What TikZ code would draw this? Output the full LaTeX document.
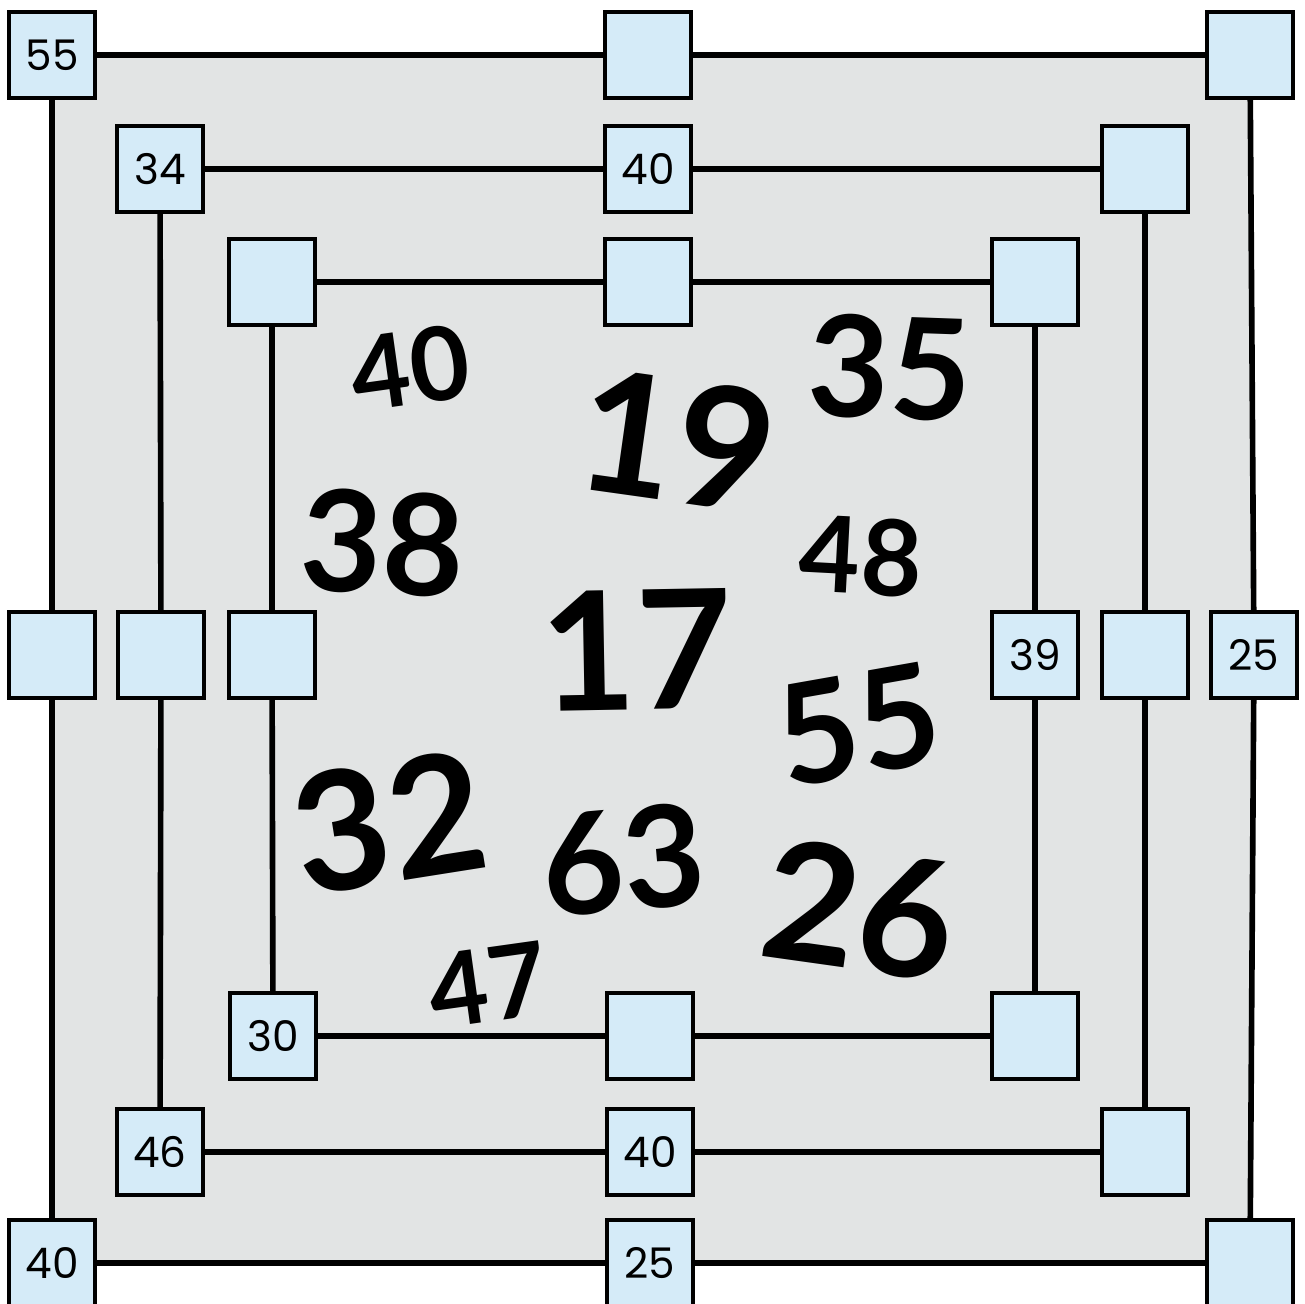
\documentclass[tikz,border=0pt]{standalone}
\usepackage{fontspec}
\setmainfont{Poppins}
\newfontfamily\numfont{Lato}
\usetikzlibrary{positioning}
\definecolor{mmboard}{HTML}{E2E4E4}
\definecolor{mmspot}{HTML}{D5EBF8}

\begin{document}
\begin{tikzpicture}[
  x=0.01cm, y=-0.01cm,
  spot/.style={rectangle, draw=black, line width=0.9pt, fill=mmspot, minimum size=0.86cm, inner sep=0pt, font=\fontsize{12}{14}\selectfont},
  ring/.style={line width=1.6pt, black},
  bignum/.style={font=\numfont\fontsize{#1}{#1}\selectfont\bfseries, inner sep=0pt},
]
\useasboundingbox (0,0) rectangle (1305,1304);

% Board background
\fill[mmboard] (51,55) rectangle (1252,1263);

% Outer ring
\node[spot] (o1) at (52,55) {55};
\node[spot] (o2) at (648,55) {};
\node[spot] (o3) at (1250,55) {};
\node[spot] (o4) at (1254,655) {25};
\node[spot] (o5) at (1250,1263) {};
\node[spot] (o6) at (650,1263) {25};
\node[spot] (o7) at (52,1263) {40};
\node[spot] (o8) at (52,655) {};

% Middle ring
\node[spot] (m1) at (160,169) {34};
\node[spot] (m2) at (648,169) {40};
\node[spot] (m3) at (1145,169) {};
\node[spot] (m4) at (1145,655) {};
\node[spot] (m5) at (1145,1152) {};
\node[spot] (m6) at (650,1152) {40};
\node[spot] (m7) at (160,1152) {46};
\node[spot] (m8) at (161,655) {};

% Inner ring
\node[spot] (i1) at (272,282) {};
\node[spot] (i2) at (648,282) {};
\node[spot] (i3) at (1035,282) {};
\node[spot] (i4) at (1035,655) {39};
\node[spot] (i5) at (1035,1036) {};
\node[spot] (i6) at (650,1036) {};
\node[spot] (i7) at (273,1036) {30};
\node[spot] (i8) at (272,655) {};

\draw[ring] (o1) -- (o2) -- (o3) -- (o4) -- (o5) -- (o6) -- (o7) -- (o8) -- (o1);
\draw[ring] (m1) -- (m2) -- (m3) -- (m4) -- (m5) -- (m6) -- (m7) -- (m8) -- (m1);
\draw[ring] (i1) -- (i2) -- (i3) -- (i4) -- (i5) -- (i6) -- (i7) -- (i8) -- (i1);

% Numbers in the middle
\node[bignum=29, rotate=8] (n40) at (410,368) {40};
\node[bignum=48, rotate=-8] (n19) at (677,440) {19};
\node[bignum=40, rotate=-2] (n35) at (890,368) {35};
\node[bignum=40, rotate=-3] (n38) at (383,543) {38};
\node[bignum=30, rotate=-3] (n48) at (861,556) {48};
\node[bignum=47, rotate=1] (n17) at (636,650) {17};
\node[bignum=40, rotate=10] (n55) at (858,725) {55};
\node[bignum=47, rotate=9] (n32) at (389,822) {32};
\node[bignum=40, rotate=5] (n63) at (623,860) {63};
\node[bignum=47, rotate=-8] (n26) at (860,910) {26};
\node[bignum=29, rotate=8] (n47) at (488,985) {47};

\end{tikzpicture}
\end{document}
